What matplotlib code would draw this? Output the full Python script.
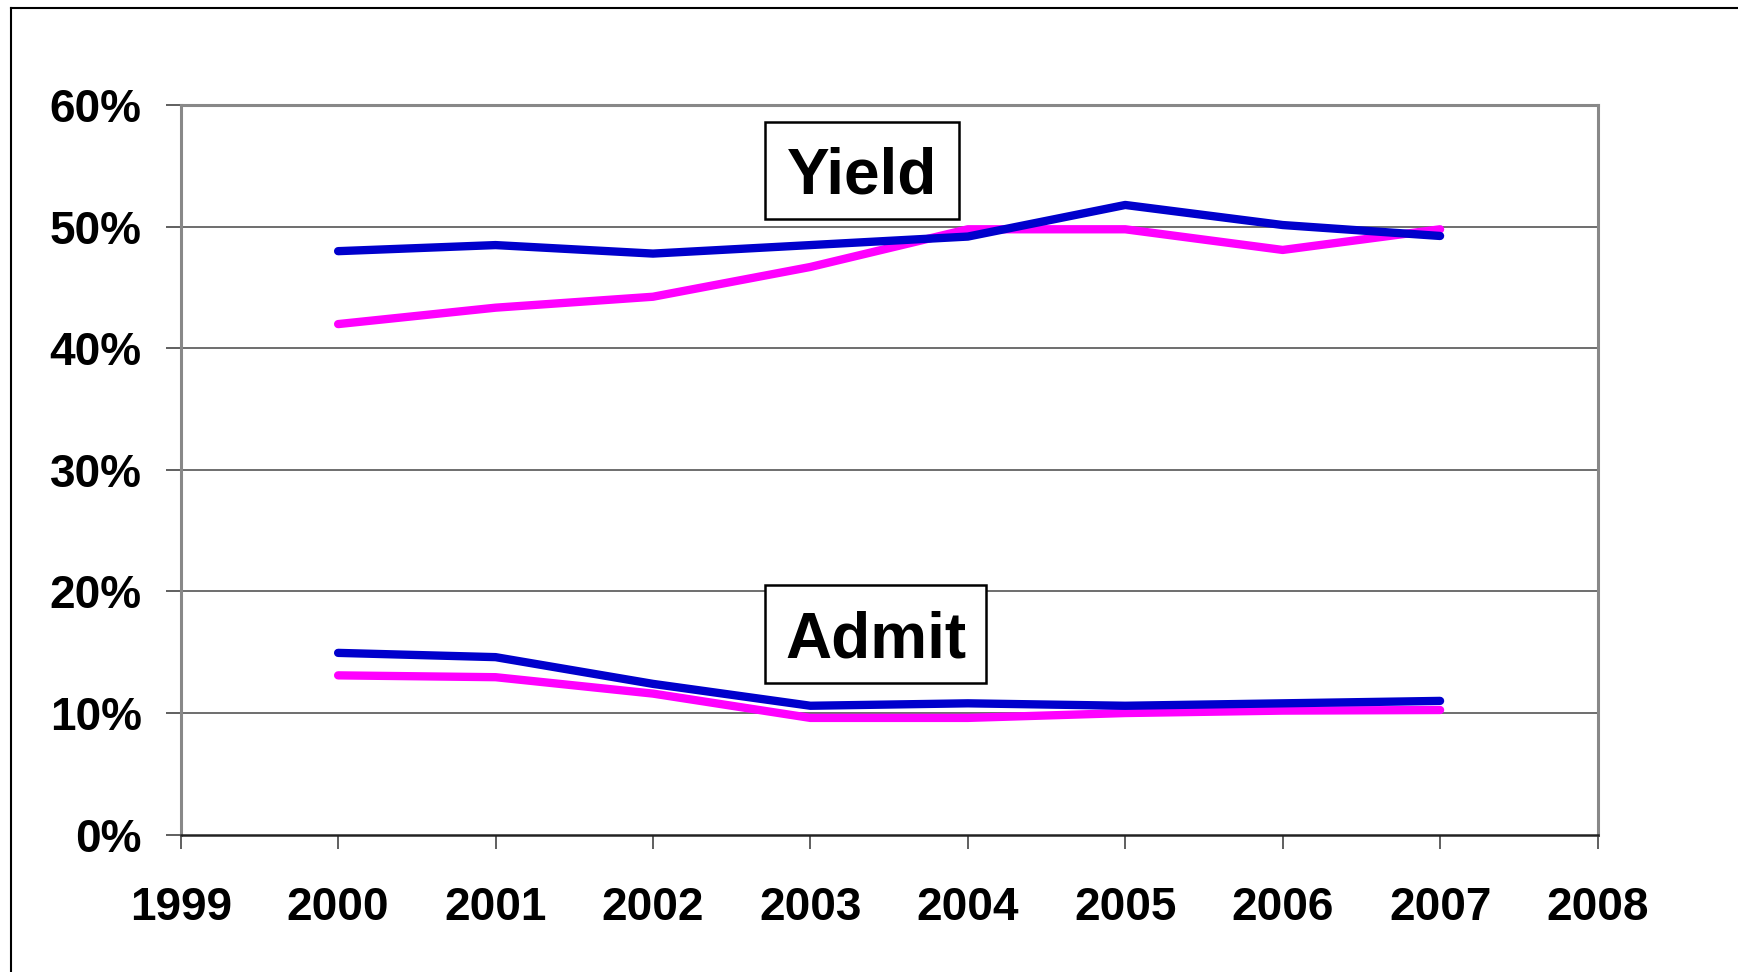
import matplotlib
matplotlib.use("Agg")
import matplotlib.pyplot as plt
from matplotlib.patches import Rectangle
from matplotlib.lines import Line2D

plt.rcParams['font.family'] = ['Liberation Sans', 'DejaVu Sans']

years = [2000, 2001, 2002, 2003, 2004, 2005, 2006, 2007]
yield_blue = [48.0, 48.5, 47.8, 48.5, 49.2, 51.8, 50.15, 49.25]
yield_magenta = [42.0, 43.35, 44.25, 46.7, 49.8, 49.8, 48.1, 49.8]
admit_blue = [14.95, 14.6, 12.4, 10.6, 10.8, 10.6, 10.8, 11.0]
admit_magenta = [13.1, 12.95, 11.6, 9.6, 9.6, 10.0, 10.2, 10.25]
x_ticks = list(range(1999, 2009))
y_ticks = [0, 10, 20, 30, 40, 50, 60]
y_labels = [f"{v}%" for v in y_ticks]

BLUE = '#0000CC'
MAGENTA = '#FF00FF'

W, H = 1738, 972
fig = plt.figure(figsize=(W / 100, H / 100), dpi=100)
ax = fig.add_axes([180.7 / W, 1 - 834.6 / H, (1597.5 - 180.7) / W, (834.6 - 105.3) / H])

for yv in y_ticks[1:-1]:
    ax.axhline(yv, color='#555555', lw=1.2, zorder=1)

lw = 6.0
ax.plot(years, yield_magenta, color=MAGENTA, lw=lw, solid_capstyle='round', solid_joinstyle='round', zorder=3)
ax.plot(years, yield_blue, color=BLUE, lw=lw, solid_capstyle='round', solid_joinstyle='round', zorder=4)
ax.plot(years, admit_magenta, color=MAGENTA, lw=lw, solid_capstyle='round', solid_joinstyle='round', zorder=3)
ax.plot(years, admit_blue, color=BLUE, lw=lw, solid_capstyle='round', solid_joinstyle='round', zorder=4)

ax.set_xlim(1999, 2008)
ax.set_ylim(0, 60)
ax.set_xticks(x_ticks)
ax.set_xticklabels([str(v) for v in x_ticks], fontsize=33, fontweight='bold')
ax.set_yticks(y_ticks)
ax.set_yticklabels(y_labels, fontsize=33, fontweight='bold')
ax.tick_params(axis='y', direction='out', length=11, width=1.2, color='#444444', pad=17)
ax.tick_params(axis='x', direction='out', length=10, width=1.2, color='#444444', pad=27)

for side in ['top', 'right', 'left']:
    ax.spines[side].set_color('#888888')
    ax.spines[side].set_linewidth(2.2)
ax.spines['bottom'].set_color('#222222')
ax.spines['bottom'].set_linewidth(1.8)

# annotation boxes (figure pixel coords)
def label_box(x0, y0, x1, y1, text, size):
    fig.patches.append(Rectangle((x0 / W, 1 - y1 / H), (x1 - x0) / W, (y1 - y0) / H,
                                 transform=fig.transFigure, facecolor='white',
                                 edgecolor='black', lw=1.8, zorder=10))
    fig.text((x0 + x1) / 2 / W, 1 - (y0 + y1) / 2 / H, text, ha='center', va='center_baseline',
             fontsize=size, fontweight='bold', zorder=11)

label_box(765, 122, 959, 219, 'Yield', 46)
label_box(765, 585, 986, 683, 'Admit', 46)

# outer frame lines
fig.add_artist(Line2D([11 / W, 1], [1 - 8 / H, 1 - 8 / H], transform=fig.transFigure, color='black', lw=1.5))
fig.add_artist(Line2D([11 / W, 11 / W], [0, 1 - 8 / H], transform=fig.transFigure, color='black', lw=1.5))

fig.savefig('out.png', dpi=100, facecolor='white')
